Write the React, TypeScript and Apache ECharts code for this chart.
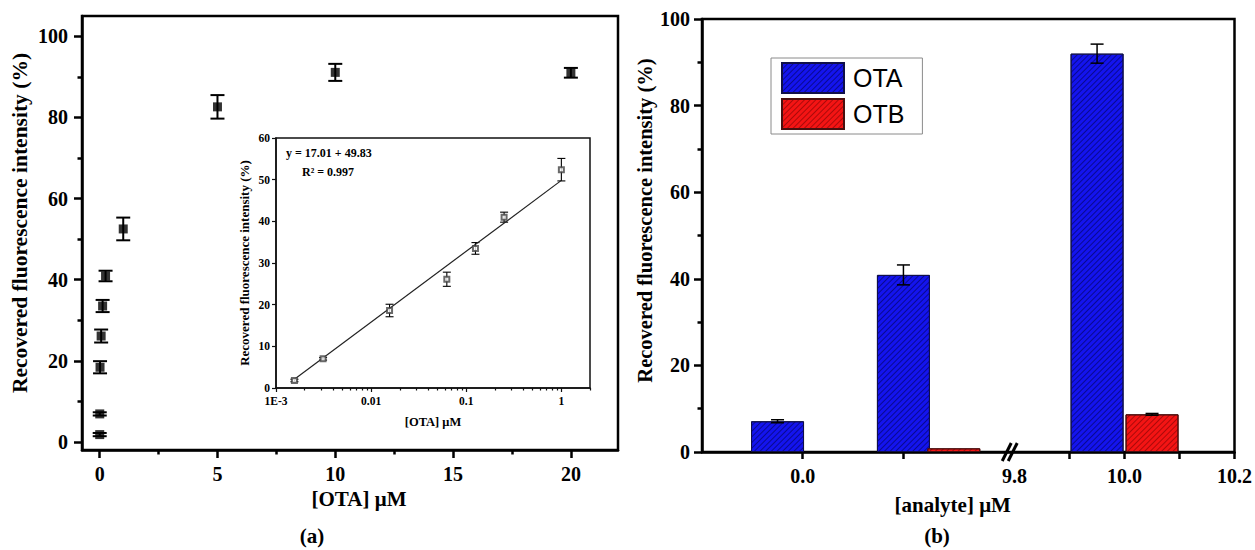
import React, { useEffect, useRef } from 'react';
import * as echarts from 'echarts';

// ---------- Panel (a): main scatter ----------
const otaConc = [0.0015625, 0.003125, 0.015625, 0.0625, 0.125, 0.25, 1, 5, 10, 20];
const recovered = [1.8, 6.9, 18.4, 26.1, 33.5, 40.9, 52.5, 82.6, 91.1, 91.0];
const recoveredErr = [0.4, 0.4, 1.5, 1.6, 1.5, 1.3, 2.8, 2.9, 2.1, 1.2];
const mainXTicks = [0, 5, 10, 15, 20];
const mainXMinorTicks = [2.5, 7.5, 12.5, 17.5];
const mainYTicks = [0, 20, 40, 60, 80, 100];
const mainYMinorTicks = [10, 30, 50, 70, 90];

// ---------- Panel (a): inset (log concentration) ----------
const insetConc = [0.0015625, 0.003125, 0.015625, 0.0625, 0.125, 0.25, 1];
const insetY = [1.8, 7.0, 18.6, 26.1, 33.5, 41.0, 52.4];
const insetErr = [0.3, 0.3, 1.5, 1.7, 1.4, 1.2, 2.7];
const fitConc = [0.0015625, 1];
const fitY = [2.1, 49.83];
const insetXTickConc = [0.001, 0.01, 0.1, 1];
const insetXTickLabels = ['1E-3', '0.01', '0.1', '1'];
const insetXMinorConc = [
  0.002, 0.003, 0.004, 0.005, 0.006, 0.007, 0.008, 0.009,
  0.02, 0.03, 0.04, 0.05, 0.06, 0.07, 0.08, 0.09,
  0.2, 0.3, 0.4, 0.5, 0.6, 0.7, 0.8, 0.9, 2,
];
const insetYTicks = [0, 10, 20, 30, 40, 50, 60];

// ---------- Panel (b): bars ----------
const groupConc = [0, 0.125, 10];
const otaBars = [7.1, 40.9, 92.0];
const otaBarsErr = [0.35, 2.3, 2.2];
const otbBars = [null, 0.85, 8.7];
const otbBarsErr = [null, 0.1, 0.2];
const bTickConc = [0, 0.1, 9.9, 10.0, 10.1, 10.2];
const bLabelConc = [0, 9.8, 10.0, 10.2];
const bLabels = ['0.0', '9.8', '10.0', '10.2'];

const SERIF = '"Liberation Serif", "Times New Roman", serif';
const SANS = '"Liberation Sans", Arial, sans-serif';

// broken axis: low segment (-0.1 .. ~0.2) stretched, high segment (9.8 .. 10.2) as is
const BREAK_OFFSET = 9.4145;
const BREAK_STRETCH = 1.8322;
const toBroken = (c: number) => (c < 5 ? BREAK_OFFSET + BREAK_STRETCH * c : c);
const BREAK_POS = 9.792;
const halfBar = (c: number) => (c < 5 ? 0.025 : 0.05);

const log10 = (v: number) => Math.log10(v);

function errorBarSeries(xAxisIndex: number, yAxisIndex: number, data: number[][], cap: number, width: number, z = 3) {
  return {
    type: 'custom',
    xAxisIndex,
    yAxisIndex,
    z,
    silent: true,
    encode: { x: 0, y: 1 },
    data,
    renderItem: (params: any, api: any) => {
      const x = api.value(0);
      const y = api.value(1);
      const e = api.value(2);
      const top = api.coord([x, y + e]);
      const bot = api.coord([x, y - e]);
      const hw = cap / 2;
      const st = { stroke: '#000', lineWidth: width };
      return {
        type: 'group',
        children: [
          { type: 'line', shape: { x1: top[0], y1: top[1], x2: bot[0], y2: bot[1] }, style: st },
          { type: 'line', shape: { x1: top[0] - hw, y1: top[1], x2: top[0] + hw, y2: top[1] }, style: st },
          { type: 'line', shape: { x1: bot[0] - hw, y1: bot[1], x2: bot[0] + hw, y2: bot[1] }, style: st },
        ],
      };
    },
  };
}

function buildOption() {
  const tickFont = (size: number) => ({
    fontFamily: SERIF,
    fontWeight: 'bold' as const,
    fontSize: size,
    color: '#000',
  });
  const noSplit = { show: false };
  const line = (width: number, color = '#000') => ({ show: true, onZero: false, lineStyle: { color, width } });
  const noLine = { show: false, onZero: false };

  const mainErr = otaConc.map((c, i) => [c, recovered[i], recoveredErr[i]]);
  const insetErrData = insetConc.map((c, i) => [log10(c), insetY[i], insetErr[i]]);
  const otaBarData = groupConc.map((c, i) => [toBroken(c - halfBar(c)), otaBars[i]]);
  const otbBarData = groupConc.map((c, i) => (otbBars[i] == null ? [toBroken(c + halfBar(c)), '-'] : [toBroken(c + halfBar(c)), otbBars[i]]));
  const barErrData: number[][] = [];
  groupConc.forEach((c, i) => {
    barErrData.push([toBroken(c - halfBar(c)), otaBars[i], otaBarsErr[i]]);
    if (otbBars[i] != null && (otbBarsErr[i] as number) > 0.15) {
      barErrData.push([toBroken(c + halfBar(c)), otbBars[i] as number, otbBarsErr[i] as number]);
    }
  });

  return {
    animation: false,
    backgroundColor: '#fff',
    grid: [
      { left: 82, top: 16, width: 536, height: 434, show: true, borderColor: '#000', borderWidth: 2.5, backgroundColor: 'transparent' },
      { left: 276, top: 138, width: 314, height: 250, show: true, borderColor: '#111', borderWidth: 1.5, backgroundColor: '#fff' },
      { left: 702, top: 19, width: 541, height: 433, show: true, borderColor: '#000', borderWidth: 2.5, backgroundColor: 'transparent' },
    ],
    legend: {
      data: ['OTA', 'OTB'],
      orient: 'vertical',
      left: 771,
      top: 58,
      itemWidth: 62,
      itemHeight: 30,
      itemGap: 4,
      padding: [4, 18, 4, 10],
      borderColor: '#8a8a8a',
      borderWidth: 1,
      backgroundColor: '#fff',
      icon: 'rect',
      selectedMode: false,
      textStyle: { fontFamily: SANS, fontSize: 25, color: '#000', padding: [0, 0, 0, 4] },
    },
    xAxis: [
      {
        gridIndex: 0, type: 'value', position: 'bottom', min: -0.75, max: 22,
        axisLine: line(2.5),
        axisTick: { show: true, customValues: mainXTicks, length: 8, lineStyle: { color: '#000', width: 2.5 } },
        axisLabel: { customValues: mainXTicks, margin: 14, ...tickFont(20) },
        splitLine: noSplit,
        name: '[OTA] μM', nameLocation: 'middle', nameGap: 36,
        nameTextStyle: { ...tickFont(21), padding: [0, 0, 0, 18] },
      },
      {
        gridIndex: 0, type: 'value', position: 'bottom', min: -0.75, max: 22,
        axisLine: noLine,
        axisTick: { show: true, customValues: mainXMinorTicks, length: 4.5, lineStyle: { color: '#000', width: 2.5 } },
        axisLabel: { show: false },
        splitLine: noSplit,
      },
      {
        gridIndex: 1, type: 'value', position: 'bottom', min: -3, max: log10(2),
        axisLine: line(1.5, '#111'),
        axisTick: { show: true, customValues: insetXTickConc.map(log10), length: 4, lineStyle: { color: '#111', width: 1.2 } },
        axisLabel: {
          customValues: insetXTickConc.map(log10), margin: 7, ...tickFont(11.5),
          formatter: (v: number) => {
            const i = insetXTickConc.findIndex((c) => Math.abs(log10(c) - v) < 1e-6);
            return i >= 0 ? insetXTickLabels[i] : '';
          },
        },
        splitLine: noSplit,
        name: '[OTA] μM', nameLocation: 'middle', nameGap: 27,
        nameTextStyle: { ...tickFont(12.5) },
      },
      {
        gridIndex: 1, type: 'value', position: 'bottom', min: -3, max: log10(2),
        axisLine: noLine,
        axisTick: { show: true, customValues: insetXMinorConc.map(log10), length: 2.5, lineStyle: { color: '#111', width: 1.2 } },
        axisLabel: { show: false },
        splitLine: noSplit,
      },
      {
        gridIndex: 2, type: 'value', position: 'bottom', min: toBroken(-0.1), max: 10.2,
        axisLine: line(2.5),
        axisTick: { show: true, customValues: bTickConc.map(toBroken), length: 7, lineStyle: { color: '#000', width: 2.5 } },
        axisLabel: {
          customValues: bLabelConc.map(toBroken), margin: 14, ...tickFont(20),
          formatter: (v: number) => {
            const i = bLabelConc.findIndex((c) => Math.abs(toBroken(c) - v) < 1e-6);
            return i >= 0 ? bLabels[i] : '';
          },
        },
        splitLine: noSplit,
        name: '[analyte] μM', nameLocation: 'middle', nameGap: 42,
        nameTextStyle: { ...tickFont(21), padding: [0, 31, 0, 0] },
      },
    ],
    yAxis: [
      {
        gridIndex: 0, type: 'value', position: 'left', min: -2, max: 105,
        axisLine: line(2.5),
        axisTick: { show: true, customValues: mainYTicks, length: 8, lineStyle: { color: '#000', width: 2.5 } },
        axisLabel: { customValues: mainYTicks, margin: 14, ...tickFont(20) },
        splitLine: noSplit,
        name: 'Recovered fluorescence intensity (%)', nameLocation: 'middle', nameGap: 51,
        nameTextStyle: { ...tickFont(21.5), padding: [0, 0, 0, 20] },
      },
      {
        gridIndex: 0, type: 'value', position: 'left', min: -2, max: 105,
        axisLine: noLine,
        axisTick: { show: true, customValues: mainYMinorTicks, length: 4.5, lineStyle: { color: '#000', width: 2.5 } },
        axisLabel: { show: false },
        splitLine: noSplit,
      },
      {
        gridIndex: 1, type: 'value', position: 'left', min: 0, max: 60,
        axisLine: line(1.5, '#111'),
        axisTick: { show: true, customValues: insetYTicks, length: 4, lineStyle: { color: '#111', width: 1.2 } },
        axisLabel: { customValues: insetYTicks, margin: 6, ...tickFont(11.5) },
        splitLine: noSplit,
        name: 'Recovered fluorescence intensity (%)', nameLocation: 'middle', nameGap: 25,
        nameTextStyle: { ...tickFont(13) },
      },
      {
        gridIndex: 2, type: 'value', position: 'left', min: 0, max: 100, interval: 20,
        axisLine: line(2.5),
        axisTick: { show: true, length: 8, lineStyle: { color: '#000', width: 2.5 } },
        minorTick: { show: true, splitNumber: 2, length: 4.5, lineStyle: { color: '#000', width: 2.5 } },
        axisLabel: { margin: 12, ...tickFont(20) },
        splitLine: noSplit,
        minorSplitLine: { show: false },
        name: 'Recovered fluorescence intensity (%)', nameLocation: 'middle', nameGap: 47,
        nameTextStyle: { ...tickFont(20.5), padding: [0, 0, 0, 30] },
      },
    ],
    series: [
      errorBarSeries(0, 0, mainErr, 14, 2),
      {
        type: 'scatter', xAxisIndex: 0, yAxisIndex: 0, z: 4,
        symbol: 'rect', symbolSize: 9,
        itemStyle: { color: '#000' },
        data: otaConc.map((c, i) => [c, recovered[i]]),
      },
      {
        type: 'line', xAxisIndex: 2, yAxisIndex: 2, z: 3,
        symbol: 'none',
        lineStyle: { color: '#222', width: 1.2 },
        data: fitConc.map((c, i) => [log10(c), fitY[i]]),
      },
      errorBarSeries(2, 2, insetErrData, 8, 1.1),
      {
        type: 'scatter', xAxisIndex: 2, yAxisIndex: 2, z: 5,
        symbol: 'emptyRect', symbolSize: 5,
        itemStyle: { color: '#444', borderWidth: 1 },
        data: insetConc.map((c, i) => [log10(c), insetY[i]]),
      },
      {
        name: 'OTA', type: 'bar', xAxisIndex: 4, yAxisIndex: 3,
        barWidth: 53, barGap: '-100%',
        itemStyle: {
          color: '#1414ee', borderColor: '#10104a', borderWidth: 1,
          decal: { symbol: 'rect', symbolSize: 1, dashArrayX: [1, 0], dashArrayY: [1, 3], rotation: -Math.PI / 4, color: 'rgba(0,0,70,0.55)' },
        },
        data: otaBarData,
      },
      {
        name: 'OTB', type: 'bar', xAxisIndex: 4, yAxisIndex: 3,
        barWidth: 53, barGap: '-100%',
        itemStyle: {
          color: '#f41414', borderColor: '#4a1010', borderWidth: 1,
          decal: { symbol: 'rect', symbolSize: 1, dashArrayX: [1, 0], dashArrayY: [1, 3], rotation: -Math.PI / 4, color: 'rgba(100,0,0,0.5)' },
        },
        data: otbBarData,
      },
      errorBarSeries(4, 3, barErrData, 13, 1.5, 5),
      {
        type: 'custom', xAxisIndex: 4, yAxisIndex: 3, z: 6, silent: true, clip: false,
        encode: { x: 0, y: 1 },
        data: [[BREAK_POS, 0]],
        renderItem: (params: any, api: any) => {
          const p = api.coord([api.value(0), api.value(1)]);
          const st = { stroke: '#000', lineWidth: 3 };
          return {
            type: 'group',
            children: [
              { type: 'line', shape: { x1: p[0] - 8, y1: p[1] + 9, x2: p[0] + 1, y2: p[1] - 9 }, style: st },
              { type: 'line', shape: { x1: p[0] - 2, y1: p[1] + 9, x2: p[0] + 7, y2: p[1] - 9 }, style: st },
            ],
          };
        },
      },
    ],
    graphic: [
      { type: 'text', left: 286, top: 147, style: { text: 'y = 17.01 + 49.83', font: `bold 12px ${SERIF}`, fill: '#000' } },
      { type: 'text', left: 302, top: 166, style: { text: 'R\u00B2 = 0.997', font: `bold 12px ${SERIF}`, fill: '#000' } },
      { type: 'text', x: 312, y: 536, style: { text: '(a)', font: `bold 21px ${SERIF}`, fill: '#000', align: 'center', verticalAlign: 'middle' } },
      { type: 'text', x: 937, y: 536, style: { text: '(b)', font: `bold 21px ${SERIF}`, fill: '#000', align: 'center', verticalAlign: 'middle' } },
    ],
  };
}

export default function App() {
  const ref = useRef<HTMLDivElement>(null);
  useEffect(() => {
    document.body.style.margin = '0';
    if (!ref.current) return;
    const chart = echarts.init(ref.current, undefined, { renderer: 'svg' });
    chart.setOption(buildOption() as any);
    return () => chart.dispose();
  }, []);
  return <div ref={ref} style={{ width: 1255, height: 550 }} />;
}
